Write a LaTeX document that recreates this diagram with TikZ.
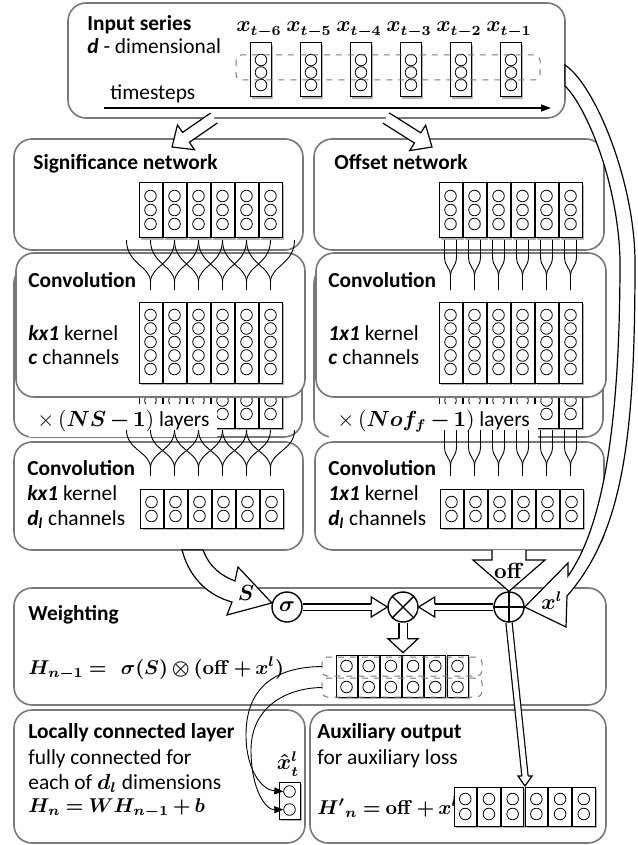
\documentclass[tikz,border=0pt]{standalone}
\usepackage[no-math]{fontspec}
\setmainfont{Carlito}
\usepackage{amsmath,bm}
\usetikzlibrary{calc,arrows.meta}

\definecolor{boxgray}{RGB}{120,120,120}
\newcommand{\basefont}{\fontsize{10.7}{13}\selectfont}
\newcommand{\formfont}{\fontsize{10}{12}\selectfont}
\newcommand{\bmath}[1]{{\boldmath$#1$}}
\medmuskip=3mu plus 1mu minus 2mu
\thickmuskip=4mu plus 2mu

\tikzset{
  panel/.style={draw=boxgray, line width=0.8pt, rounded corners=9pt, fill=white},
  cell/.style={draw=black, line width=0.5pt, fill=white},
  cellshadow/.style={fill=black!30},
  neuron/.style={draw=black, line width=0.4pt},
  title/.style={font=\basefont\bfseries, anchor=base west, inner sep=0pt},
  txt/.style={font=\basefont, anchor=base west, inner sep=0pt},
  form/.style={font=\formfont, anchor=base west, inner sep=0pt},
  lbl/.style={font=\basefont, inner sep=0pt},
  op/.style={circle, draw, line width=0.7pt, minimum size=15pt, inner sep=0pt, fill=white, font=\basefont},
  dbl/.style={double, double distance=2.5pt, line width=0.6pt},
  wire/.style={line width=0.45pt},
  fat/.style={line width=0.6pt, fill=white, line join=miter},
  dashbox/.style={draw=boxgray, dashed, line width=0.5pt, rounded corners=2.5pt},
}

% column of units: left x, top y, bottom y, circle ys, width
\newcommand{\neurocol}[5]{%
  \pgfmathsetmacro\nleft{#1}%
  \pgfmathsetmacro\nright{#1+#5}%
  \pgfmathsetmacro\nmid{#1+#5/2}%
  \fill[cellshadow] (\nleft+1.6,#2+1.6) rectangle (\nright+1.6,#3+1.6);
  \draw[cell] (\nleft,#2) rectangle (\nright,#3);
  \foreach \yy in {#4} {\draw[neuron] (\nmid,\yy) circle[radius=2.9pt];}
}
% hollow straight arrow: start, tip
\newcommand{\fatarrow}[2]{%
  \coordinate (fab) at ($(#2)!8.5pt!(#1)$);
  \filldraw[fat] ($(#1)!3pt!90:(#2)$) -- ($(fab)!3pt!-90:(#1)$) -- ($(fab)!7.5pt!-90:(#1)$) -- (#2)
    -- ($(fab)!7.5pt!90:(#1)$) -- ($(fab)!3pt!90:(#1)$) -- ($(#1)!3pt!-90:(#2)$);
}

\begin{document}
\begin{tikzpicture}[x=0.5pt, y=-0.5pt]
\useasboundingbox (0,0) rectangle (637,845);

% input series
\draw[panel] (68,3) rectangle (565,118);
\node[title] (intitle) at (87,31) {Input series};
\node[txt] (indim) at (87,54) {\textbf{\textit{d}} - dimensional};
\foreach \xa in {250.5,300.5,350.5,400.5,450.5,500.5} {\neurocol{\xa}{43}{97}{60,72.5,85}{21}}
\node[lbl, anchor=base] (xin6) at (259,32) {\bmath{x_{t-6}}};
\node[lbl, anchor=base] (xin5) at (309,32) {\bmath{x_{t-5}}};
\node[lbl, anchor=base] (xin4) at (359,32) {\bmath{x_{t-4}}};
\node[lbl, anchor=base] (xin3) at (409,32) {\bmath{x_{t-3}}};
\node[lbl, anchor=base] (xin2) at (459,32) {\bmath{x_{t-2}}};
\node[lbl, anchor=base] (xin1) at (509,32) {\bmath{x_{t-1}}};
\draw[dashbox] (236,55) rectangle (540,80);
\node[txt] (tsteps) at (110,100) {timesteps};
\draw[line width=0.6pt, -{Triangle[length=5pt,width=3.5pt]}] (104,108) -- (551,108);

% significance and offset networks
\draw[panel] (14,139) rectangle (303,250);
\node[title] (sigtitle) at (33,170) {Significance network};
\draw[panel] (314,139) rectangle (604,250);
\node[title] (offtitle) at (334,170) {Offset network};
\foreach \xa in {139,163,187,211,235,259,439,463,487,511,535,559} {\neurocol{\xa}{183}{238}{196,210,224}{23}}

% repeated layers behind
\draw[panel] (14,265) rectangle (302,437);
\draw[panel] (314,265) rectangle (603,437);
\foreach \xa in {139,163,187,211,235,259,439,463,487,511,535,559} {\neurocol{\xa}{347}{428}{360,373.5,387,400.5,414}{23}}
\node[txt, fill=white, inner xsep=4pt, inner ysep=3pt] (nsrep) at (29,426) {$\times\,(\boldsymbol{NS-1})$ layers};
\node[txt, fill=white, inner xsep=4pt, inner ysep=3pt] (nofrep) at (329,426) {$\times\,(\boldsymbol{Nof_f-1})$ layers};

% first convolution
\draw[panel] (16,253) rectangle (305,397);
\node[title] (sconv) at (28,287) {Convolution};
\node[txt] (skern) at (28,340) {\textbf{\textit{kx1}} kernel};
\node[txt] (schan) at (28,364) {\textbf{\textit{c}} channels};
\draw[panel] (316,253) rectangle (606,397);
\node[title] (oconv) at (328,287) {Convolution};
\node[txt] (okern) at (328,340) {\textbf{\textit{1x1}} kernel};
\node[txt] (ochan) at (328,364) {\textbf{\textit{c}} channels};
\foreach \xa in {139,163,187,211,235,259,439,463,487,511,535,559} {\neurocol{\xa}{302}{383}{315,328.5,342,355.5,369}{23}}

% last convolution
\draw[panel] (14,442) rectangle (303,550);
\node[title] (sconvl) at (27,475) {Convolution};
\node[txt] (skernl) at (27,500) {\textbf{\textit{kx1}} kernel};
\node[txt] (schanl) at (27,525) {\textbf{\textit{d}}\textsubscript{\textbf{\textit{l}}} channels};
\draw[panel] (315,442) rectangle (604,550);
\node[title] (oconvl) at (328,475) {Convolution};
\node[txt] (okernl) at (328,500) {\textbf{\textit{1x1}} kernel};
\node[txt] (ochanl) at (328,525) {\textbf{\textit{d}}\textsubscript{\textbf{\textit{l}}} channels};
\foreach \xa in {140,164,188,212,236,260,440,464,488,512,536,560} {\neurocol{\xa}{489}{528}{502,516}{23}}

% kernel connections
\foreach \ya/\yb in {240/290,430/476} {
  \foreach \xa in {150.5,174.5,198.5,222.5,246.5,270.5} {
    \draw[wire] (\xa,\yb) -- (\xa,\yb-8) .. controls (\xa,\yb-24) and (\xa-24,\yb-26) .. (\xa-24,\ya);
    \draw[wire] (\xa,\yb-8) .. controls (\xa,\yb-24) and (\xa+24,\yb-26) .. (\xa+24,\ya);
  }
  \foreach \xa in {450.5,474.5,498.5,522.5,546.5,570.5} {
    \draw[wire] (\xa-6,\ya) -- (\xa-6,\ya+16) .. controls (\xa-6,\ya+28) and (\xa,\ya+26) .. (\xa,\ya+37) -- (\xa,\yb);
    \draw[wire] (\xa+6,\ya) -- (\xa+6,\ya+16) .. controls (\xa+6,\ya+28) and (\xa,\ya+26) .. (\xa,\ya+37);
  }
}

% arrows from the input
\coordinate (sa0) at (214,118);
\coordinate (sa1) at (172,147);
\coordinate (oa0) at (386,118);
\coordinate (oa1) at (432,147);
\fatarrow{sa0}{sa1}
\fatarrow{oa0}{oa1}

% weighting
\draw[panel] (14,588) rectangle (606,705);
\node[title] (wtitle) at (28,620) {Weighting};
\node[form] (wform) at (28,674) {\bmath{H_{n-1} =\;\, \sigma(S)\otimes(\mathbf{off}+x^{l})}};

% locally connected and auxiliary output
\draw[panel] (14,710) rectangle (305,843);
\node[title] (lctitle) at (28,738) {Locally connected layer};
\node[txt] (lc1) at (28,764) {fully connected for};
\node[txt] (lc2) at (28,789) {each of \bmath{d_l} dimensions};
\node[form] (lc3) at (28,812) {\bmath{H_n = WH_{n-1}+b}};
\draw[panel] (310,710) rectangle (606,843);
\node[title] (auxtitle) at (317,738) {Auxiliary output};
\node[txt] (aux1) at (317,764) {for auxiliary loss};
\node[form] (aux2) at (317,814) {\bmath{{H'}_{n} = \mathbf{off} + x^{l}}};

% operators
\node[op] (sig) at (287,607) {\bmath{\sigma}};
\node[op] (mul) at (403,607) {};
\draw[line width=0.7pt] (mul.north east) -- (mul.south west) (mul.north west) -- (mul.south east);
\node[op] (add) at (509,607) {};
\draw[line width=0.7pt] (add.north) -- (add.south) (add.west) -- (add.east);

% S arrow
\filldraw[fat] (182,550) .. controls (190,580) and (210,596) .. (232,602) -- (227,615) -- (sig.165)
  -- (238,567) -- (235,581) .. controls (222,576) and (210,568) .. (203,550) -- cycle;
\node[lbl] (slab) at (246,593) {\bmath{S}};

% off arrow
\filldraw[fat] (492,550) -- (492,560) -- (473,560) -- (add.north) -- (545,560) -- (526,560) -- (526,550);
\node[lbl] (offlab) at (509,571) {$\mathbf{off}$};

% x^l arrow
\filldraw[fat] (565,65) .. controls (595,85) and (634,180) .. (635,260) .. controls (635,430) and (625,530) .. (567,596)
  -- (566,627) -- (add.east) -- (568,563) -- (568,576) .. controls (608,520) and (620,400) .. (620,260)
  .. controls (618,180) and (585,105) .. (565,86) -- cycle;
\node[lbl] (xllab) at (552,601) {\bmath{x^{l}}};

% sigma -> mul, add -> mul
\draw[dbl] (sig.east) -- ($(mul.west)+(-16,0)$);
\draw[fat] ($(mul.west)+(-16,-3)$) -- ($(mul.west)+(-16,-10)$) -- (mul.west) -- ($(mul.west)+(-16,10)$) -- ($(mul.west)+(-16,3)$);
\draw[dbl] (add.west) -- ($(mul.east)+(16,0)$);
\draw[fat] ($(mul.east)+(16,-3)$) -- ($(mul.east)+(16,-10)$) -- (mul.east) -- ($(mul.east)+(16,10)$) -- ($(mul.east)+(16,3)$);

% mul -> weighted output
\draw[dbl, double distance=3.5pt] (mul.south) -- ($(mul.south)+(0,16)$);
\draw[fat] ($(mul.south)+(-4.5,16)$) -- ($(mul.south)+(-15,16)$) -- ($(mul.south)+(0,30)$) -- ($(mul.south)+(15,16)$) -- ($(mul.south)+(4.5,16)$);
\foreach \xa in {336,358.2,380.4,402.6,424.8,447} {\neurocol{\xa}{655}{697}{666,687}{21}}
\draw[dashbox] (322,657) rectangle (482,676);
\draw[dashbox] (322,678) rectangle (482,697);
\coordinate (row1) at (322,666.5);
\coordinate (row2) at (322,687.5);

% output of locally connected layer
\fill[cellshadow] (280.6,783.6) rectangle (301.6,820.6);
\draw[cell] (279,782) rectangle (300,819);
\node[circle, neuron, minimum size=5.8pt, inner sep=0pt] (xh1) at (289.5,791.5) {};
\node[circle, neuron, minimum size=5.8pt, inner sep=0pt] (xh2) at (289.5,809.5) {};
\node[lbl] (xhat) at (288,764) {\bmath{\hat{x}^{l}_{t}}};
\draw[wire, -{Triangle[length=4.5pt,width=3.5pt]}] (row1) .. controls (272,667) and (246,690) .. (246,735)
  .. controls (246,770) and (262,790) .. (xh1.west);
\draw[wire, -{Triangle[length=4.5pt,width=3.5pt]}] (row2) .. controls (285,688) and (251,708) .. (251,750)
  .. controls (251,790) and (266,810) .. (xh2.west);

% auxiliary output
\foreach \xa in {454,477.7,501.4,525.1,548.8,572.5} {\neurocol{\xa}{787}{826}{799,814}{22.5}}
\coordinate (auxin) at (525,786);
\draw[dbl] (add.south) -- ($(auxin)+(0,-10)$);
\draw[fat] ($(auxin)+(-3,-10)$) -- ($(auxin)+(-7,-10)$) -- (auxin) -- ($(auxin)+(7,-10)$) -- ($(auxin)+(3,-10)$);
\end{tikzpicture}
\end{document}
